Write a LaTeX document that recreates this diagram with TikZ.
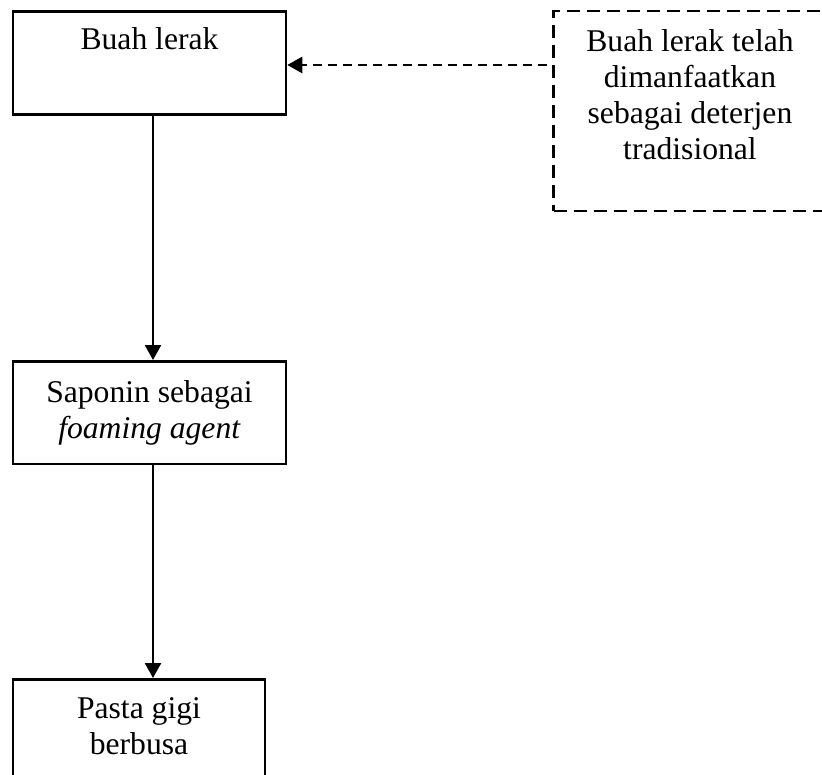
\documentclass[tikz,border=0pt]{standalone}
\usepackage{fontspec}
\setmainfont{Liberation Serif}
\usepackage{tikz}
\usetikzlibrary{arrows.meta,positioning}

\tikzset{
  box/.style={rectangle, draw, line width=0.05cm, minimum width=5.46cm,
    minimum height=2.05cm},
  dashbox/.style={box, dash pattern=on 0.26cm off 0.14cm},
  txt/.style={align=center, inner sep=0pt,
    font=\fontsize{18}{20.5}\selectfont},
  flow/.style={line width=0.05cm, -{Triangle[length=0.3cm,width=0.32cm]}},
  dashflow/.style={flow, dash pattern=on 0.18cm off 0.12cm}
}

\begin{document}
\begin{tikzpicture}
\useasboundingbox (0,0) rectangle (16.44,-15.5);

 \node[box] (lerak) at (2.99,-1.26) {};
 \node[txt, below=0.34cm of lerak.north] (lerakt) {Buah lerak};

 \node[dashbox, minimum height=4cm] (deterjen) at (13.8,-2.22) {};
 \node[txt, below=0.38cm of deterjen.north] (deterjent)
    {Buah lerak telah\\dimanfaatkan\\sebagai deterjen\\tradisional};

 \node[box] (saponin) at (2.99,-8.25) {};
 \node[txt] (sapnt) at (saponin.center)
    {Saponin sebagai\\\textit{foaming agent}};

 \node[box, minimum width=5.04cm] (pasta) at (2.78,-14.61) {};
 \node[txt, below=0.38cm of pasta.north] (pastat) {Pasta gigi\\berbusa};

\coordinate (tick) at (deterjen.west |- 0,-1.3);
\coordinate (tip) at (lerak.east |- tick);
\coordinate (p1) at (lerak.south -| 3.06,0);
\coordinate (p2) at (saponin.north -| p1);
\coordinate (p3) at (saponin.south -| p1);
\coordinate (p4) at (pasta.north -| p1);

\draw [dashflow] ([xshift=-0.1cm]tick) -- (tip);
\draw [flow] (p1) -- (p2);
\draw [flow] (p3) -- (p4);

\end{tikzpicture}
\end{document}
